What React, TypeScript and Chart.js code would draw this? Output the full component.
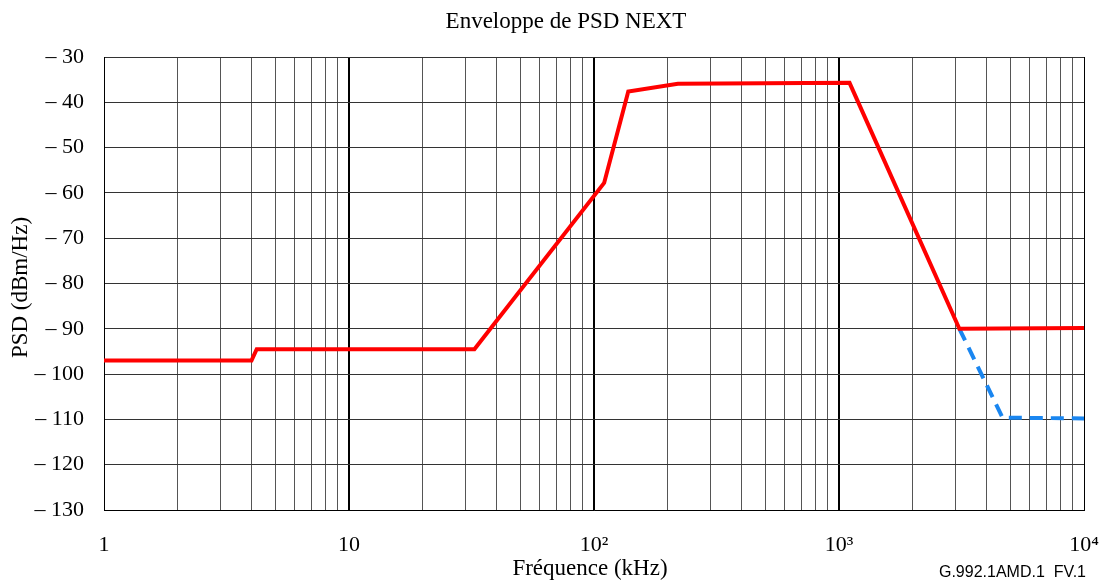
import React, { useEffect, useRef } from "react";
import { Chart, registerables } from "chart.js";

Chart.register(...registerables);

const redFreq = [1, 4.0, 4.2, 32.5, 110, 138, 220, 1104, 3100, 10000];
const redPsd = [-97, -97, -94.5, -94.5, -57.8, -37.6, -35.9, -35.7, -90, -89.8];
const blueFreq = [3100, 4650, 10000];
const bluePsd = [-90, -109.6, -109.8];

const decadeLabels: Record<number, string> = { 1: "1", 10: "10", 100: "10²", 1000: "10³", 10000: "10⁴" };

const titleText = "Enveloppe de PSD NEXT";
const xTitle = "Fréquence (kHz)";
const yTitle = "PSD (dBm/Hz)";
const footnote = "G.992.1AMD.1  FV.1";

const SERIF = "'Liberation Serif', 'Times New Roman', serif";

const textPlugin = {
  id: "texts",
  afterDraw(chart: any) {
    const ctx = chart.ctx;
    const area = chart.chartArea;
    ctx.save();
    ctx.fillStyle = "#000";
    ctx.font = `23px ${SERIF}`;
    ctx.textAlign = "center";
    ctx.textBaseline = "middle";
    ctx.fillText(titleText, 566, 22);
    ctx.fillText(xTitle, 590, 569);
    ctx.save();
    ctx.translate(21, (area.top + area.bottom) / 2 + 4);
    ctx.rotate(-Math.PI / 2);
    ctx.fillText(yTitle, 0, 0);
    ctx.restore();
    ctx.font = "16px 'Liberation Sans', Arial, sans-serif";
    ctx.textAlign = "right";
    ctx.fillText(footnote, 1086, 573);
    ctx.restore();
  },
};

export default function App() {
  const ref = useRef<HTMLCanvasElement>(null);
  useEffect(() => {
    document.body.style.margin = "0";
    const isDecade = (v: number) => Math.abs(Math.log10(v) - Math.round(Math.log10(v))) < 1e-9;
    const chart = new Chart(ref.current!, {
      type: "scatter",
      data: {
        datasets: [
          {
            data: redFreq.map((f, i) => ({ x: f, y: redPsd[i] })),
            showLine: true,
            borderColor: "#ff0000",
            borderWidth: 4,
            pointRadius: 0,
            tension: 0,
            borderJoinStyle: "miter",
          },
          {
            data: blueFreq.map((f, i) => ({ x: f, y: bluePsd[i] })),
            showLine: true,
            borderColor: "#1a86f0",
            borderWidth: 4,
            borderDash: [13, 8],
            pointRadius: 0,
            tension: 0,
          },
        ],
      },
      options: {
        animation: false,
        responsive: false,
        devicePixelRatio: 1,
        layout: { padding: { top: 57, right: 19, left: 0, bottom: 0 } },
        plugins: { legend: { display: false }, tooltip: { enabled: false }, title: { display: false } },
        scales: {
          x: {
            type: "logarithmic",
            min: 1,
            max: 10000,
            afterBuildTicks: (scale: any) => {
              const t: any[] = [];
              for (let d = 1; d < 10000; d *= 10) {
                for (let m = 1; m <= 9; m++) t.push({ value: m * d });
              }
              t.push({ value: 10000 });
              scale.ticks = t;
            },
            afterFit: (scale: any) => {
              scale.height = 72;
              scale.paddingRight = 0;
              scale.paddingLeft = 0;
            },
            ticks: {
              autoSkip: false,
              maxRotation: 0,
              minRotation: 0,
              padding: 22,
              color: "#000",
              font: { family: SERIF, size: 22 },
              callback: (v: any) => decadeLabels[Math.round(Number(v))] ?? (isDecade(Number(v)) ? String(v) : ""),
            },
            grid: {
              drawTicks: false,
              color: (c: any) => (c.tick && isDecade(c.tick.value) ? "#000" : "#555"),
              lineWidth: (c: any) => (c.tick && isDecade(c.tick.value) && c.tick.value !== 1 && c.tick.value !== 10000 ? 2 : 1),
            },
            border: { color: "#000", width: 1 },
          },
          y: {
            min: -130,
            max: -30,
            afterFit: (scale: any) => {
              scale.width = 104;
              scale.paddingTop = 0;
              scale.paddingBottom = 0;
            },
            ticks: {
              stepSize: 10,
              padding: 20,
              color: "#000",
              font: { family: SERIF, size: 22 },
              callback: (v: any) => "– " + Math.abs(Number(v)),
            },
            grid: { drawTicks: false, color: "#333", lineWidth: 1 },
            border: { color: "#000", width: 1 },
          },
        },
      },
      plugins: [textPlugin],
    } as any);
    return () => chart.destroy();
  }, []);
  return (
    <div style={{ width: 1103, height: 582 }}>
      <canvas ref={ref} width={1103} height={582} style={{ display: "block" }} />
    </div>
  );
}
